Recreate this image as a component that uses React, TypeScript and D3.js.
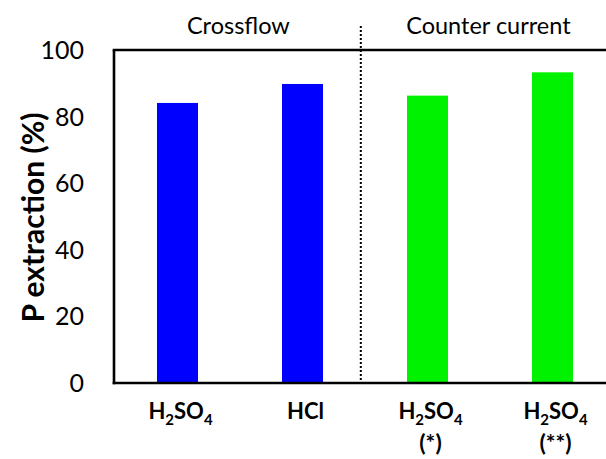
import React, { useEffect, useRef } from "react";
import * as d3 from "d3";

// chart values
const acids = ["H2SO4", "HCl", "H2SO4", "H2SO4"];
const notes = ["", "", "(*)", "(**)"];
const extraction = [84.1, 89.8, 86.3, 93.3];
const groupOf = [0, 0, 1, 1];
const groups = ["Crossflow", "Counter current"];
const barColors = ["#0000ff", "#00f200"];
const yTicks = [0, 20, 40, 60, 80, 100];

const W = 606,
  H = 459;
const FONT = "Lato, 'Open Sans', sans-serif";

// splits a formula into normal / subscript chunks (digits go down)
function formulaParts(s: string) {
  const parts: { t: string; sub: boolean }[] = [];
  s.split("").forEach((ch) => {
    const sub = /\d/.test(ch);
    const last = parts[parts.length - 1];
    if (last && last.sub === sub) last.t += ch;
    else parts.push({ t: ch, sub });
  });
  return parts;
}

export default function App() {
  const ref = useRef<SVGSVGElement>(null);

  useEffect(() => {
    const svg = d3.select(ref.current);
    svg.selectAll("*").remove();

    const ids = acids.map((_, i) => String(i));
    const x = d3
      .scaleBand<string>()
      .domain(ids)
      .range([115, 615])
      .paddingInner(0.672)
      .paddingOuter(0.336);
    const y = d3.scaleLinear().domain([0, 100]).range([383, 50]);
    const left = 114;

    // bars
    svg
      .append("g")
      .selectAll("rect")
      .data(extraction)
      .enter()
      .append("rect")
      .attr("x", (d, i) => x(ids[i])!)
      .attr("width", x.bandwidth())
      .attr("y", (d) => y(d))
      .attr("height", (d) => y(0) - y(d))
      .attr("fill", (d, i) => barColors[groupOf[i]]);

    // frame: left, top, bottom
    const frame = svg.append("g").attr("stroke", "#000").attr("stroke-width", 2.6);
    frame.append("line").attr("x1", left).attr("x2", left).attr("y1", y(100)).attr("y2", y(0) + 1.3);
    frame.append("line").attr("x1", left - 1.3).attr("x2", W).attr("y1", y(100)).attr("y2", y(100));
    frame.append("line").attr("x1", left - 1.3).attr("x2", W).attr("y1", y(0)).attr("y2", y(0));

    // dotted divider between the two groups
    const gap = x.step() - x.bandwidth();
    const divX = x(ids[1])! + x.bandwidth() + gap * 0.45;
    svg
      .append("line")
      .attr("x1", divX)
      .attr("x2", divX)
      .attr("y1", 26)
      .attr("y2", y(0))
      .attr("stroke", "#000")
      .attr("stroke-width", 2)
      .attr("stroke-dasharray", "2,2");

    // group headers
    groups.forEach((g, gi) => {
      const cx = gi === 0 ? (left + divX) / 2 + 1 : divX + (W - divX) / 2 + 5;
      svg
        .append("text")
        .attr("x", cx)
        .attr("y", 34)
        .attr("text-anchor", "middle")
        .style("font-family", FONT)
        .style("font-size", "23.5px")
        .attr("fill", "#000")
        .text(g);
    });

    // y tick labels
    svg
      .append("g")
      .selectAll("text")
      .data(yTicks)
      .enter()
      .append("text")
      .attr("x", 84)
      .attr("y", (d) => y(d))
      .attr("dy", "0.36em")
      .attr("text-anchor", "end")
      .style("font-family", FONT)
      .style("font-size", "25px")
      .attr("fill", "#000")
      .text((d) => d);

    // y title
    svg
      .append("text")
      .attr("transform", `translate(44,${(y(0) + y(100)) / 2 + 1}) rotate(-90)`)
      .attr("text-anchor", "middle")
      .style("font-family", FONT)
      .style("font-size", "30px")
      .style("font-weight", 700)
      .attr("fill", "#000")
      .text("P extraction (%)");

    // category labels
    acids.forEach((a, i) => {
      const cx = x(ids[i])! + x.bandwidth() / 2 + 3;
      const t = svg
        .append("text")
        .attr("x", cx)
        .attr("y", 419)
        .attr("text-anchor", "middle")
        .style("font-family", FONT)
        .style("font-size", "22px")
        .style("font-weight", 700)
        .attr("fill", "#000");
      let down = false;
      formulaParts(a).forEach((p) => {
        const ts = t.append("tspan").text(p.t);
        if (p.sub) {
          ts.attr("dy", 6).style("font-size", "15px");
          down = true;
        } else if (down) {
          ts.attr("dy", -6);
          down = false;
        }
      });
      if (notes[i]) {
        svg
          .append("text")
          .attr("x", cx)
          .attr("y", 451)
          .attr("text-anchor", "middle")
          .style("font-family", FONT)
          .style("font-size", "23px")
          .style("font-weight", 700)
          .attr("fill", "#000")
          .text(notes[i]);
      }
    });
  }, []);

  return (
    <svg
      ref={ref}
      width={W}
      height={H}
      style={{ position: "absolute", left: 0, top: 0, background: "#fff" }}
    />
  );
}
